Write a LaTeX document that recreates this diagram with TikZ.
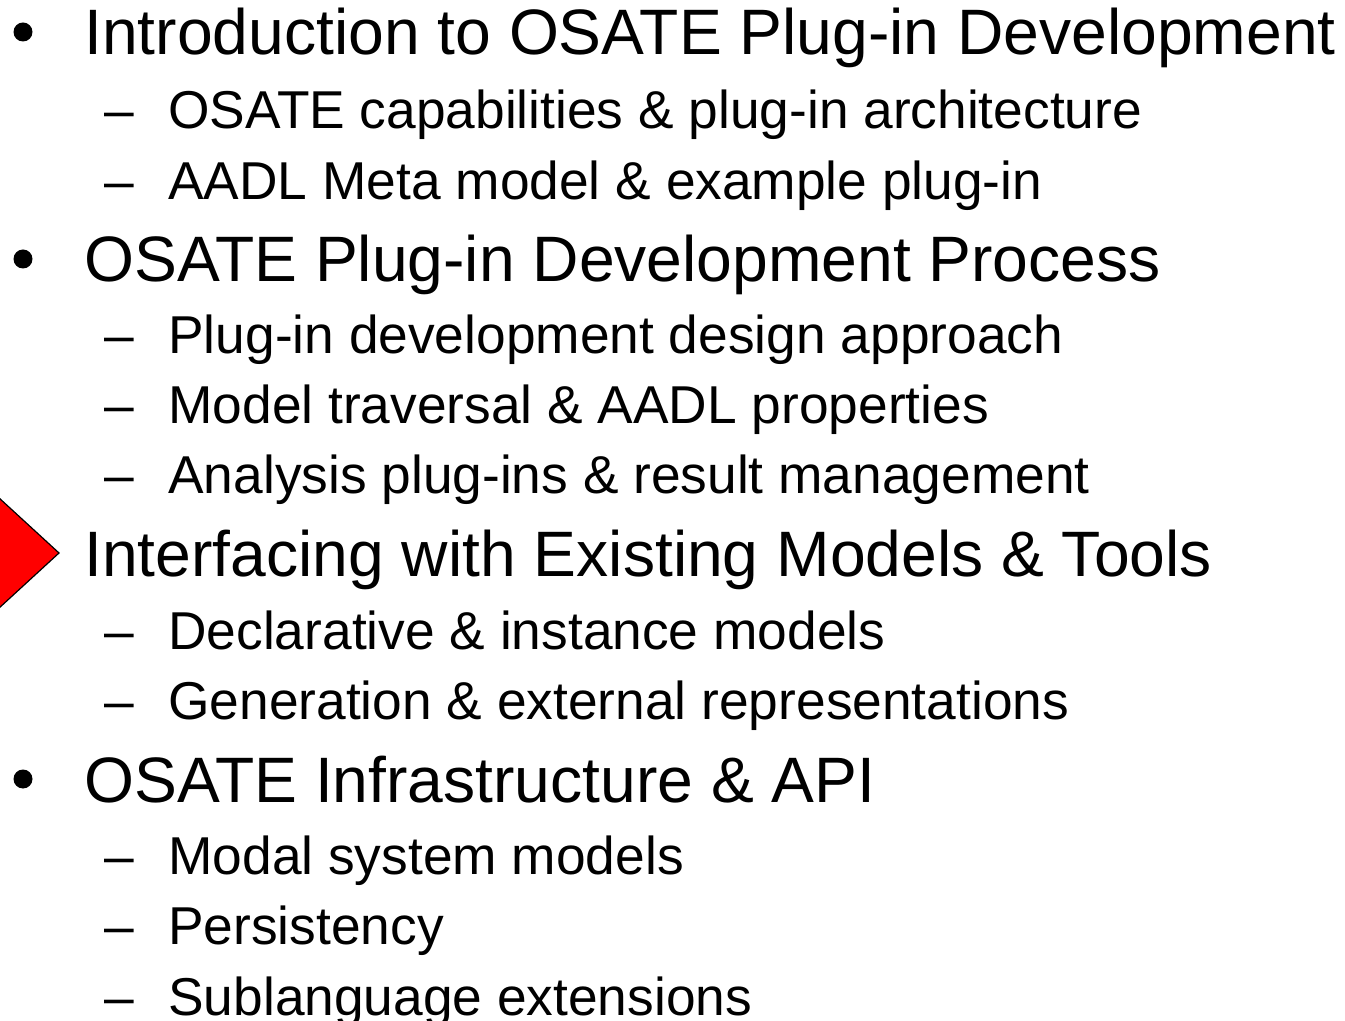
\documentclass[tikz,border=0pt]{standalone}
\usepackage{fontspec}
\setmainfont{Liberation Sans}
\begin{document}
\begin{tikzpicture}[x=0.5pt,y=-0.5pt,
  lone/.style={anchor=base west,inner sep=0pt,font=\fontsize{32.1}{36}\selectfont},
  ltwo/.style={anchor=base west,inner sep=0pt,font=\fontsize{26.65}{30}\selectfont},
  bul/.style={circle,fill=black,inner sep=0pt,minimum size=9.5pt},
  pointer/.style={fill=red,draw=black,line width=0.6pt,line join=miter}]
\useasboundingbox (0,0) rectangle (1345,1021);
\begin{scope}
\clip (0,0) rectangle (1345,1021);
\fill[white] (0,0) rectangle (1345,1021);
% level 1
\node[bul] (b1) at (23,32) {};
\node[lone] (t1) at (84,55) {Introduction to OSATE Plug-in Development};
\node[bul] (b2) at (23,259) {};
\node[lone] (t2) at (84,282) {OSATE Plug-in Development Process};
\node[lone] (t3) at (84,577) {Interfacing with Existing Models \& Tools};
\node[bul] (b4) at (23,779) {};
\node[lone] (t4) at (84,802) {OSATE Infrastructure \& API};
% level 2
\foreach \name/\y/\txt in {
  s1/129/{OSATE capabilities \& plug-in architecture},
  s2/200/{AADL Meta model \& example plug-in},
  s3/354/{Plug-in development design approach},
  s4/424/{Model traversal \& AADL properties},
  s5/494/{Analysis plug-ins \& result management},
  s6/649/{Declarative \& instance models},
  s7/719/{Generation \& external representations},
  s8/874/{Modal system models},
  s9/944/{Persistency},
  s10/1015/{Sublanguage extensions}}{
  \node[ltwo] (d\name) at (104,\y) {–};
  \node[ltwo] (\name) at (168,\y) {\txt};
}
% red pointer
\draw[pointer] (-2,497) -- (59,553) -- (-2,609) -- cycle;
\end{scope}
\end{tikzpicture}
\end{document}
